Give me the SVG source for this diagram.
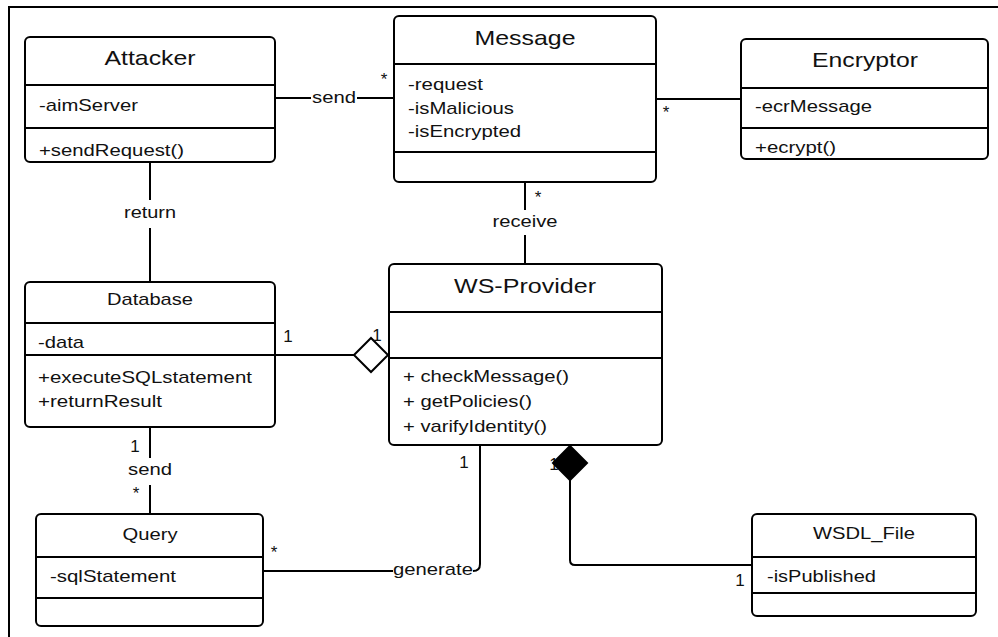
<svg xmlns="http://www.w3.org/2000/svg" width="998" height="637" viewBox="0 0 998 637">
  <style>
    .box { fill: #ffffff; stroke: #000000; stroke-width: 2; }
    .div { stroke: #000000; stroke-width: 2; fill: none; }
    .edge { stroke: #000000; stroke-width: 2; fill: none; }
    text { font-family: "Liberation Sans", Arial, sans-serif; fill: #111111; }
    .title { font-size: 21px; text-anchor: middle; }
    .sub { font-size: 17px; text-anchor: middle; }
    .attr { font-size: 17px; }
    .lbl { font-size: 17px; text-anchor: middle; }
    .mult { font-size: 17px; text-anchor: middle; }
  </style>

  <rect x="0" y="0" width="998" height="637" fill="#ffffff"/>
  <!-- page frame -->
  <path class="edge" d="M9,637 L9,7 L998,7"/>

  <!-- associations -->
  <g id="connectors">
    <!-- Attacker - Message -->
    <path class="edge" d="M275,98 L311,98 M357,98 L394,98"/>
    <text class="lbl" x="334" y="103" textLength="44" lengthAdjust="spacingAndGlyphs">send</text>
    <text class="mult" x="384" y="85">*</text>

    <!-- Message - Encryptor -->
    <path class="edge" d="M656,99 L741,99"/>
    <text class="mult" x="666" y="118">*</text>

    <!-- Message - WS-Provider -->
    <path class="edge" d="M525,182 L525,210 M525,235 L525,264"/>
    <text class="lbl" x="525" y="227" textLength="65" lengthAdjust="spacingAndGlyphs">receive</text>
    <text class="mult" x="538" y="203">*</text>

    <!-- Attacker - Database -->
    <path class="edge" d="M150,162 L150,200 M150,228 L150,282"/>
    <text class="lbl" x="150" y="218" textLength="52" lengthAdjust="spacingAndGlyphs">return</text>

    <!-- Database - WS-Provider (aggregation) -->
    <path class="edge" d="M275,355 L354,355"/>
    <path class="edge" d="M354,355 L371,338 L388,355 L371,372 Z" fill="#ffffff"/>
    <text class="mult" x="288" y="342">1</text>
    <text class="mult" x="377" y="341">1</text>

    <!-- Database - Query -->
    <path class="edge" d="M150,427 L150,458 M150,485 L150,514"/>
    <text class="lbl" x="150" y="475" textLength="44" lengthAdjust="spacingAndGlyphs">send</text>
    <text class="mult" x="135" y="452">1</text>
    <text class="mult" x="136" y="499">*</text>

    <!-- Query - WS-Provider -->
    <path class="edge" d="M263,571 L393,571 M473,571 Q480,571 480,564 L480,445"/>
    <text class="lbl" x="433" y="575" textLength="80" lengthAdjust="spacingAndGlyphs">generate</text>
    <text class="mult" x="274" y="558">*</text>
    <text class="mult" x="464" y="468">1</text>

    <!-- WS-Provider - WSDL_File (composition) -->
    <text class="mult" x="554" y="470">1</text>
    <path class="edge" d="M570,480 L570,560 Q570,565 575,565 L752,565"/>
    <path d="M570,446 L587,463 L570,480 L553,463 Z" fill="#000000" stroke="#000000" stroke-width="2"/>
    <text class="mult" x="740" y="586">1</text>
  </g>

  <g id="attacker">
    <rect class="box" x="25" y="37" width="250" height="125" rx="5"/>
    <path class="div" d="M25,85 L275,85 M25,128 L275,128"/>
    <text class="title" x="150" y="65" textLength="91" lengthAdjust="spacingAndGlyphs">Attacker</text>
    <text class="attr" x="39" y="111" textLength="99" lengthAdjust="spacingAndGlyphs">-aimServer</text>
    <text class="attr" x="39" y="156" textLength="145" lengthAdjust="spacingAndGlyphs">+sendRequest()</text>
  </g>

  <g id="message">
    <rect class="box" x="394" y="16" width="262" height="166" rx="5"/>
    <path class="div" d="M394,64 L656,64 M394,152 L656,152"/>
    <text class="title" x="525" y="45" font-size="22" textLength="101" lengthAdjust="spacingAndGlyphs">Message</text>
    <text class="attr" x="408" y="90" textLength="75" lengthAdjust="spacingAndGlyphs">-request</text>
    <text class="attr" x="408" y="114" textLength="106" lengthAdjust="spacingAndGlyphs">-isMalicious</text>
    <text class="attr" x="408" y="137" textLength="113" lengthAdjust="spacingAndGlyphs">-isEncrypted</text>
  </g>

  <g id="encryptor">
    <rect class="box" x="741" y="39" width="247" height="120" rx="5"/>
    <path class="div" d="M741,88 L988,88 M741,128 L988,128"/>
    <text class="title" x="865" y="67" textLength="106" lengthAdjust="spacingAndGlyphs">Encryptor</text>
    <text class="attr" x="755" y="112" textLength="117" lengthAdjust="spacingAndGlyphs">-ecrMessage</text>
    <text class="attr" x="755" y="153" textLength="81" lengthAdjust="spacingAndGlyphs">+ecrypt()</text>
  </g>

  <g id="database">
    <rect class="box" x="25" y="282" width="250" height="145" rx="5"/>
    <path class="div" d="M25,323 L275,323 M25,355 L275,355"/>
    <text class="sub" x="150" y="305" textLength="86" lengthAdjust="spacingAndGlyphs">Database</text>
    <text class="attr" x="38" y="348" textLength="46" lengthAdjust="spacingAndGlyphs">-data</text>
    <text class="attr" x="38" y="383" textLength="214" lengthAdjust="spacingAndGlyphs">+executeSQLstatement</text>
    <text class="attr" x="38" y="407" textLength="124" lengthAdjust="spacingAndGlyphs">+returnResult</text>
  </g>

  <g id="ws-provider">
    <rect class="box" x="389" y="264" width="273" height="181" rx="5"/>
    <path class="div" d="M389,312 L662,312 M389,358 L662,358"/>
    <text class="title" x="525" y="293" font-size="22" textLength="142" lengthAdjust="spacingAndGlyphs">WS-Provider</text>
    <text class="attr" x="403" y="382" textLength="166" lengthAdjust="spacingAndGlyphs">+ checkMessage()</text>
    <text class="attr" x="403" y="407" textLength="129" lengthAdjust="spacingAndGlyphs">+ getPolicies()</text>
    <text class="attr" x="403" y="432" textLength="144" lengthAdjust="spacingAndGlyphs">+ varifyIdentity()</text>
  </g>

  <g id="query">
    <rect class="box" x="36" y="514" width="227" height="112" rx="5"/>
    <path class="div" d="M36,557 L263,557 M36,598 L263,598"/>
    <text class="sub" x="150" y="540" textLength="55" lengthAdjust="spacingAndGlyphs">Query</text>
    <text class="attr" x="50" y="582" textLength="126" lengthAdjust="spacingAndGlyphs">-sqlStatement</text>
  </g>

  <g id="wsdl-file">
    <rect class="box" x="752" y="514" width="224" height="102" rx="5"/>
    <path class="div" d="M752,557 L976,557 M752,593 L976,593"/>
    <text class="sub" x="864" y="539" textLength="102" lengthAdjust="spacingAndGlyphs">WSDL_File</text>
    <text class="attr" x="767" y="582" textLength="109" lengthAdjust="spacingAndGlyphs">-isPublished</text>
  </g>
</svg>
